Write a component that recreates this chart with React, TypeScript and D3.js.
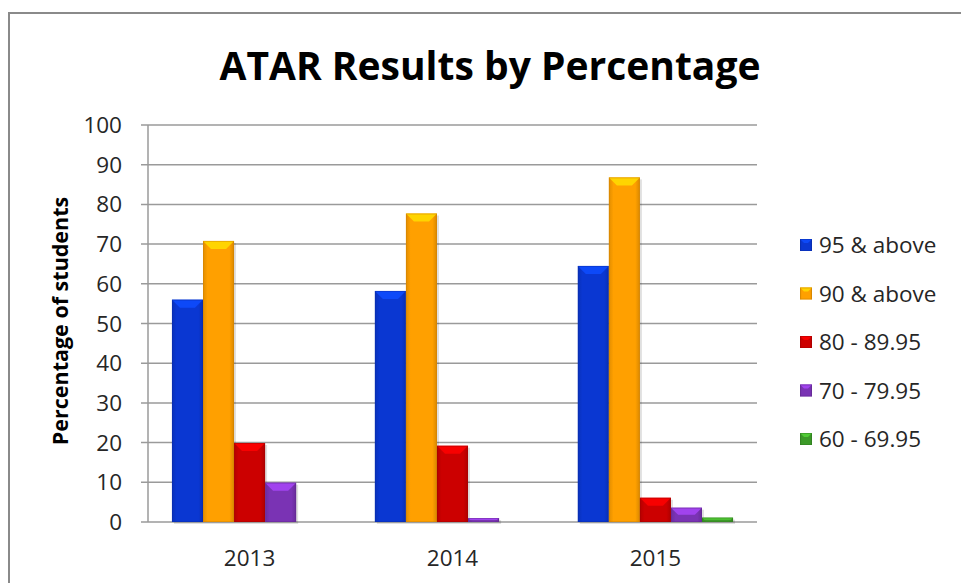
import React from 'react';
import * as d3 from 'd3';

const years = ['2013', '2014', '2015'];
const seriesNames = ['95 & above', '90 & above', '80 - 89.95', '70 - 79.95', '60 - 69.95'];
const seriesColors = ['#0a37d2', '#ffa000', '#cc0000', '#7a33b4', '#3c9a28'];
const top95 = [56, 58.2, 64.5];
const top90 = [70.8, 77.7, 86.8];
const band80 = [19.9, 19.2, 6.1];
const band70 = [9.9, 1, 3.6];
const band60 = [0, 0, 1.1];
const yTicks = [0, 10, 20, 30, 40, 50, 60, 70, 80, 90, 100];

const allSeries = [top95, top90, band80, band70, band60];

const W = 961;
const H = 583;
const font = '"Open Sans", "DejaVu Sans", sans-serif';
const labelSize = 22.5;

const x0 = d3.scaleBand<string>().domain(years).range([148, 757]).paddingInner(0.235).paddingOuter(0.118);
const x1 = d3.scaleBand<number>().domain(d3.range(seriesNames.length)).range([0, x0.bandwidth()]);
const y = d3.scaleLinear().domain([0, 100]).range([522, 125]);

function Bar({ x, w, v, color, id }: { x: number; w: number; v: number; color: string; id: string }) {
  const yt = y(v);
  const h = y(0) - yt;
  if (h <= 0.2) return null;
  const b = Math.min(8, h / 2, w / 2);
  const light = d3.color(color)!.brighter(0.9).formatHex();
  const dark = d3.color(color)!.darker(0.6).formatHex();
  return (
    <g>
      <rect x={x + 2} y={yt + 2} width={w} height={h} fill="#000" opacity={0.12} />
      <rect x={x} y={yt} width={w} height={h} fill={`url(#g${id})`} />
      <polygon
        points={`${x},${yt} ${x + w},${yt} ${x + w - b},${yt + b} ${x + b},${yt + b}`}
        fill={light}
        opacity={0.85}
      />
      <rect x={x + 0.5} y={yt + 0.5} width={w - 1} height={h - 1} fill="none" stroke={dark} strokeOpacity={0.45} />
    </g>
  );
}

export default function App() {
  return (
    <div style={{ position: 'absolute', left: 0, top: 0 }}>
      <svg width={W} height={H} style={{ display: 'block', background: '#fff' }}>
        <defs>
          {seriesColors.map((c, i) => (
            <linearGradient key={i} id={`g${i}`} x1="0" x2="1" y1="0" y2="0">
              <stop offset="0" stopColor={d3.color(c)!.darker(0.35).formatHex()} />
              <stop offset="0.15" stopColor={c} />
              <stop offset="0.85" stopColor={c} />
              <stop offset="1" stopColor={d3.color(c)!.darker(0.45).formatHex()} />
            </linearGradient>
          ))}
        </defs>
        <rect x={9} y={13} width={W + 20} height={H + 20} fill="none" stroke="#8a8a8a" strokeWidth={2} />

        <text x={490} y={80} textAnchor="middle" fontFamily={font} fontWeight="bold" fontSize={39} fill="#000">
          ATAR Results by Percentage
        </text>

        {yTicks.map((t) => (
          <g key={t}>
            <line x1={141} x2={757} y1={y(t)} y2={y(t)} stroke="#9a9a9a" strokeWidth={1.5} />
            <text x={122} y={y(t) + 8} textAnchor="end" fontFamily={font} fontSize={labelSize} fill="#262626">
              {t}
            </text>
          </g>
        ))}
        <line x1={148} x2={148} y1={y(100)} y2={y(0)} stroke="#9a9a9a" strokeWidth={1.5} />

        <text
          transform={`translate(68, 321) rotate(-90)`}
          textAnchor="middle"
          fontFamily={font}
          fontWeight="bold"
          fontSize={21.5}
          fill="#000"
        >
          Percentage of students
        </text>

        {years.map((yr, yi) => (
          <g key={yr}>
            {allSeries.map((s, si) => (
              <Bar key={si} id={String(si)} x={x0(yr)! + x1(si)!} w={x1.bandwidth()} v={s[yi]} color={seriesColors[si]} />
            ))}
            <text x={x0(yr)! + x0.bandwidth() / 2} y={566} textAnchor="middle" fontFamily={font} fontSize={labelSize} fill="#262626">
              {yr}
            </text>
          </g>
        ))}

        {seriesNames.map((n, i) => (
          <g key={n} transform={`translate(800, ${245 + i * 48.5})`}>
            <rect x={0} y={-6} width={12} height={12} fill={`url(#g${i})`} />
            <polygon points="0,-6 12,-6 8,-2 4,-2" fill={d3.color(seriesColors[i])!.brighter(0.9).formatHex()} opacity={0.85} />
            <rect x={0.5} y={-5.5} width={11} height={11} fill="none" stroke={d3.color(seriesColors[i])!.darker(0.6).formatHex()} strokeOpacity={0.5} />
            <text x={19} y={8} fontFamily={font} fontSize={labelSize} fill="#262626">
              {n}
            </text>
          </g>
        ))}
      </svg>
    </div>
  );
}
